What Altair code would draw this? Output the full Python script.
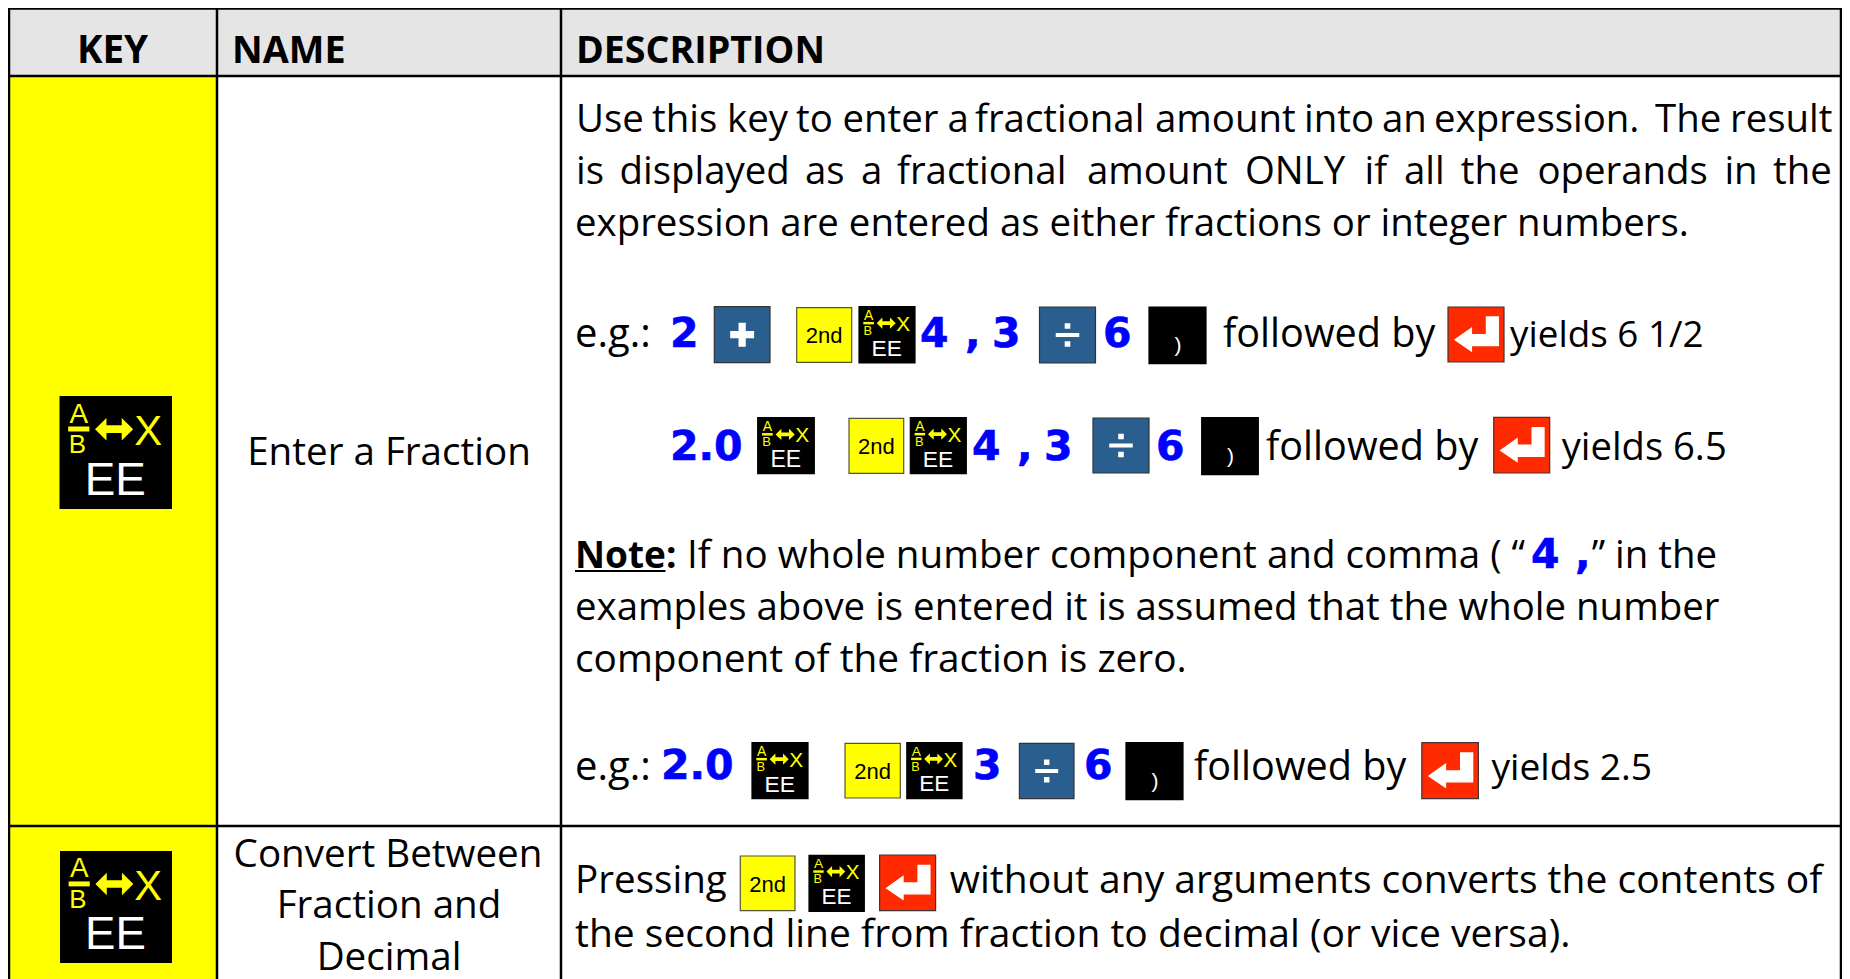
import altair as alt
import pandas as pd

# ---------- content ----------
HEADERS = ["KEY", "NAME", "DESCRIPTION"]
NAME_CELLS = ["Enter a Fraction", "Convert Between", "Fraction and", "Decimal"]
BODY_LINES = [
    "Use", "this", "key", "to", "enter", "a", "fractional", "amount", "into", "an", "expression.", "The", "result",
    "is", "displayed", "as", "a", "fractional", "amount", "ONLY", "if", "all", "the", "operands", "in", "the",
    "expression are entered as either fractions or integer numbers.",
    "e.g.:", "followed by", "yields 6 1/2",
    "followed by", "yields 6.5",
    "If no whole number component and comma ( “", "” in the",
    "examples above is entered it is assumed that the whole number",
    "component of the fraction is zero.",
    "e.g.:", "followed by", "yields 2.5",
    "Pressing", "without any arguments converts the contents of",
    "the second line from fraction to decimal (or vice versa).",
]
NOTE_LABEL = "Note:"
BLUE_TOKENS = ["2", "4", ",", "3", "6",
               "2.0", "4", ",", "3", "6",
               "4", ",",
               "2.0", "3", "6"]

# ---------- layout (pixel positions on the page) ----------
COL_EDGES = [9, 217, 561, 1841]
ROW_EDGES = [8.5, 76, 826, 979]
HEADER_X = [112.5, 232, 576]
HEADER_BASE = 63
HEADER_SIZES = [38.5, 37.8, 37.6]
NAME_X = [389, 388, 389, 389]
NAME_BASE = [465, 867, 918, 970]
NAME_SIZE = 38.6
BODY_X = [576, 652, 727, 796, 842.5, 947.4, 975, 1155, 1304, 1382, 1434, 1655, 1730,
          576, 619.5, 805, 861, 897, 1087, 1245, 1364.5, 1404, 1460.7, 1537.4, 1724.4, 1773,
          575,
          575, 1223, 1510,
          1266, 1561.7,
          687, 1591.7,
          575,
          575,
          575, 1194, 1491.4,
          575, 949.8,
          575]
BODY_BASE = [132] * 13 + [184] * 13 + [236, 347, 347, 347, 460, 460, 568, 568, 620, 672, 780, 780, 780, 893, 893, 947]
BODY_SIZES = [38.4] * 26 + [38.4, 40, 39.6, 36.8,
                            39.6, 38.2,
                            38.6, 38.4,
                            38.4,
                            38.8,
                            40, 39.6, 37.2,
                            38.6, 39,
                            39]
BLUE_X = [670, 920, 965, 992, 1103,
          670, 972, 1017, 1044, 1156,
          1531, 1575,
          661, 973, 1084]
BLUE_BASE = [347] * 5 + [460] * 5 + [568] * 2 + [779] * 3

# key caps: kind, left, top, right, bottom
KEYS = [
    ("ee", 59.5, 396, 172, 509), ("ee", 60, 851, 172, 963),
    ("plus", 714.3, 306.7, 770, 362.7), ("2nd", 796.7, 307.7, 851.7, 362.3), ("ee", 859, 306.7, 915, 363),
    ("div", 1039.5, 307, 1095.5, 363), ("paren", 1149, 307, 1206, 363.7), ("enter", 1448, 307, 1504, 362),
    ("ee", 757.7, 417.7, 814.3, 473.7), ("2nd", 849, 418.3, 903.7, 473.3), ("ee", 910.3, 417.7, 966.3, 473.7),
    ("div", 1093, 418, 1149, 473), ("paren", 1201.7, 417.7, 1258.3, 474.7), ("enter", 1493.7, 417.3, 1549.7, 473),
    ("ee", 752, 742.7, 808, 798.7), ("2nd", 845, 743.3, 900.3, 798), ("ee", 906.8, 742.7, 962, 798.7),
    ("div", 1019.4, 743.3, 1074, 798.7), ("paren", 1126, 742.7, 1183, 799.7), ("enter", 1421.8, 742.7, 1478.4, 798.7),
    ("2nd", 740.3, 856, 795, 910.7), ("ee", 809, 855.3, 864.3, 911.3), ("enter", 879.6, 855, 935.6, 910.7),
]
KEY_FILL = {"ee": "#000000", "paren": "#000000", "plus": "#2a5e8f", "div": "#2a5e8f", "2nd": "#ffff00", "enter": "#ff2a00"}
KEY_STROKE = {"ee": "#000000", "paren": "#000000", "plus": "#333333", "div": "#333333", "2nd": "#555533", "enter": "#443333"}

ENTER_PATH = "M-0.79,0.19L-0.14,-0.27L-0.14,-0.02L0.35,-0.02L0.35,-0.65L0.82,-0.65L0.82,0.42L-0.14,0.42L-0.14,0.63Z"
PLUS_PATH = "M-0.13,-0.43L0.13,-0.43L0.13,-0.13L0.43,-0.13L0.43,0.13L0.13,0.13L0.13,0.43L-0.13,0.43L-0.13,0.13L-0.43,0.13L-0.43,-0.13L-0.13,-0.13Z"
DIV_PATH = ("M-0.42,-0.07L0.42,-0.07L0.42,0.07L-0.42,0.07Z"
            "M-0.1,-0.42L0.1,-0.42L0.1,-0.22L-0.1,-0.22Z"
            "M-0.1,0.22L0.1,0.22L0.1,0.42L-0.1,0.42Z")
DOUBLE_ARROW_PATH = "M-1,0L-0.4,-0.59L-0.4,-0.2L0.4,-0.2L0.4,-0.59L1,0L0.4,0.59L0.4,0.2L-0.4,0.2L-0.4,0.59Z"

BODY_FONT = "Open Sans"
KEY_FONT = "Liberation Sans"
BLUE_FONT = "DejaVu Sans"
BLUE_SIZE = 41

X_SCALE = alt.Scale(domain=[8, 1842], nice=False, zero=False)
Y_SCALE = alt.Scale(domain=[979, 8], nice=False, zero=False)
W, H = 1834, 971

# ---------- tables ----------
rects = []
def add_rect(x, y, x2, y2, fill, stroke=None, sw=0):
    rects.append(dict(x=x, y=y, x2=x2, y2=y2, fill=fill, stroke=stroke or fill, sw=sw))

add_rect(COL_EDGES[0], ROW_EDGES[0], COL_EDGES[3], ROW_EDGES[1], "#e5e5e5")
add_rect(COL_EDGES[0], ROW_EDGES[1], COL_EDGES[1], ROW_EDGES[3], "#ffff00")
LW = 1.25
for c in COL_EDGES:
    add_rect(c - LW, ROW_EDGES[0] - 0.5, c + LW, ROW_EDGES[3], "#000000")
for i, r in enumerate(ROW_EDGES[:-1]):
    add_rect(COL_EDGES[0] - LW, r - LW if i else 8, COL_EDGES[3] + LW, r + LW, "#000000")

texts = {"keyc": []}
symbols = {"enter": [], "plus": [], "div": [], "arrow": []}
for kind, l, t, r, b in KEYS:
    w = r - l
    k = w / 113.0
    sw = 1.2 if w < 100 else 0
    add_rect(l, t, r, b, KEY_FILL[kind], KEY_STROKE[kind], sw)
    cx, cy = (l + r) / 2, (t + b) / 2
    if kind == "ee":
        texts["keyc"] += [
            dict(x=l + 19.5 * k, y=t + 26.7 * k, t="A", fs=28 * k, c="#ffff00"),
            dict(x=l + 18 * k, y=t + 57.3 * k, t="B", fs=26 * k, c="#ffff00"),
            dict(x=l + 89 * k, y=t + 49 * k, t="X", fs=42 * k, c="#ffff00"),
            dict(x=l + 56 * k, y=t + 99 * k, t="EE", fs=46 * k, c="#ffffff"),
        ]
        add_rect(l + 8.7 * k, t + 30.7 * k, l + 30 * k, t + 35.7 * k, "#ffff00")
        symbols["arrow"].append(dict(x=l + 54.85 * k, y=t + 33.3 * k, s=(38.3 * k) ** 2))
    elif kind == "2nd":
        texts["keyc"].append(dict(x=cx, y=t + 35.6, t="2nd", fs=22, c="#000000"))
    elif kind == "paren":
        texts["keyc"].append(dict(x=cx + 0.5, y=t + 45, t=")", fs=21, c="#ffffff"))
    else:
        symbols[kind].append(dict(x=cx, y=cy, s=w ** 2))


def xy():
    return dict(x=alt.X("x:Q", scale=X_SCALE, axis=None), y=alt.Y("y:Q", scale=Y_SCALE, axis=None))

def rect_layer(rows):
    return alt.Chart(pd.DataFrame(rows)).mark_rect().encode(
        **xy(), x2="x2:Q", y2="y2:Q",
        color=alt.Color("fill:N", scale=None),
        stroke=alt.Stroke("stroke:N", scale=None),
        strokeWidth=alt.StrokeWidth("sw:Q", scale=None),
    )

def text_layer(rows, font, weight="normal", align="left", stroke=None, sw=0):
    props = dict(font=font, fontWeight=weight, align=align, baseline="alphabetic")
    if stroke:
        props.update(stroke=stroke, strokeWidth=sw)
    return alt.Chart(pd.DataFrame(rows)).mark_text(**props).encode(
        **xy(), text="t:N",
        size=alt.Size("fs:Q", scale=None),
        color=alt.Color("c:N", scale=None),
    )

def symbol_layer(rows, path, color):
    return alt.Chart(pd.DataFrame(rows)).mark_point(
        shape=path, filled=True, color=color, opacity=1, strokeWidth=0
    ).encode(**xy(), size=alt.Size("s:Q", scale=None))

header_center = [dict(x=HEADER_X[0], y=HEADER_BASE, t=HEADERS[0], fs=HEADER_SIZES[0], c="#000000")]
header_left = [dict(x=x, y=HEADER_BASE, t=t, fs=s, c="#000000")
               for t, x, s in zip(HEADERS[1:], HEADER_X[1:], HEADER_SIZES[1:])]
names = [dict(x=x, y=y, t=t, fs=NAME_SIZE, c="#000000") for t, x, y in zip(NAME_CELLS, NAME_X, NAME_BASE)]
body = [dict(x=x, y=y, t=t, fs=s, c="#000000") for t, x, y, s in zip(BODY_LINES, BODY_X, BODY_BASE, BODY_SIZES)]
note = [dict(x=575, y=568, t=NOTE_LABEL, fs=37, c="#000000")]
blue = [dict(x=x, y=y, t=t, fs=BLUE_SIZE, c="#0000ff") for t, x, y in zip(BLUE_TOKENS, BLUE_X, BLUE_BASE)]
underline = [dict(x=575, y=570, x2=665.5, y2=572, fill="#000000", stroke="#000000", sw=0)]

layers = [
    rect_layer(rects + underline),
    text_layer(texts["keyc"], KEY_FONT, align="center"),
    symbol_layer(symbols["arrow"], DOUBLE_ARROW_PATH, "#ffff00"),
    symbol_layer(symbols["enter"], ENTER_PATH, "#ffffff"),
    symbol_layer(symbols["plus"], PLUS_PATH, "#ffffff"),
    symbol_layer(symbols["div"], DIV_PATH, "#ffffff"),
    text_layer(header_center, BODY_FONT, "bold", "center"),
    text_layer(header_left, BODY_FONT, "bold"),
    text_layer(names, BODY_FONT, align="center"),
    text_layer(body, BODY_FONT),
    text_layer(note, BODY_FONT, "bold"),
    text_layer(blue, BLUE_FONT, "bold", stroke="#0000ff", sw=0.6),
]

chart = alt.layer(*layers).properties(
    width=W, height=H, padding=0, autosize=alt.AutoSizeParams(type="none"),
    background="white",
).configure_view(stroke=None)

chart.save("out.html", embed_options={"renderer": "svg", "actions": False})
